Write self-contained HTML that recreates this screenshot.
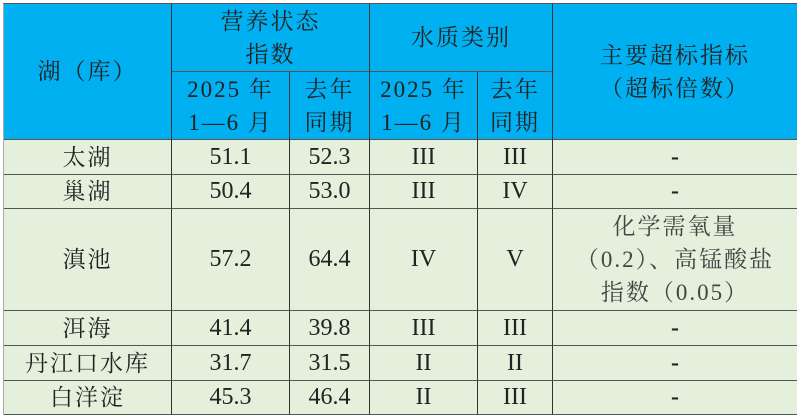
<!DOCTYPE html>
<html><head><meta charset="utf-8"><style>
body{margin:0;width:800px;height:418px;background:#fff;position:relative;overflow:hidden;font-family:"Liberation Serif","Noto Serif CJK SC",serif;font-size:23px;color:#222}
.c{position:absolute;display:flex;align-items:center;justify-content:center;text-align:center;line-height:33px;box-sizing:border-box;border-right:1.5px solid #333;border-bottom:1.5px solid #555;letter-spacing:2px}
.h{background:#00b0f0}
.b{background:#e4efdc}
.n{letter-spacing:0;font-size:24px}
</style></head><body>
<div style="position:absolute;left:3px;top:3px;width:794px;height:412px;border-top:1.5px solid #555;border-left:1px solid #aaa;box-sizing:border-box"></div>
<div class="c h" style="left:4px;top:4px;width:168px;height:136px">湖（库）</div>
<div class="c h" style="left:172px;top:4px;width:198px;height:68px">营养状态<br>指数</div>
<div class="c h" style="left:370px;top:4px;width:183px;height:68px">水质类别</div>
<div class="c h" style="left:553px;top:4px;width:244px;height:136px;border-right:none">主要超标指标<br>（超标倍数）</div>
<div class="c h" style="left:172px;top:72px;width:118px;height:68px">2025 年<br>1—6 月</div>
<div class="c h" style="left:290px;top:72px;width:80px;height:68px">去年<br>同期</div>
<div class="c h" style="left:370px;top:72px;width:108px;height:68px">2025 年<br>1—6 月</div>
<div class="c h" style="left:478px;top:72px;width:75px;height:68px">去年<br>同期</div>

<div class="c b" style="left:4px;top:140px;width:168px;height:35px">太湖</div>
<div class="c b n" style="left:172px;top:140px;width:118px;height:35px">51.1</div>
<div class="c b n" style="left:290px;top:140px;width:80px;height:35px">52.3</div>
<div class="c b n" style="left:370px;top:140px;width:108px;height:35px">III</div>
<div class="c b n" style="left:478px;top:140px;width:75px;height:35px">III</div>
<div class="c b n" style="left:553px;top:140px;width:244px;height:35px;border-right:none;font-weight:bold">-</div>

<div class="c b" style="left:4px;top:175px;width:168px;height:34px">巢湖</div>
<div class="c b n" style="left:172px;top:175px;width:118px;height:34px">50.4</div>
<div class="c b n" style="left:290px;top:175px;width:80px;height:34px">53.0</div>
<div class="c b n" style="left:370px;top:175px;width:108px;height:34px">III</div>
<div class="c b n" style="left:478px;top:175px;width:75px;height:34px">IV</div>
<div class="c b n" style="left:553px;top:175px;width:244px;height:34px;border-right:none;font-weight:bold">-</div>

<div class="c b" style="left:4px;top:209px;width:168px;height:102px">滇池</div>
<div class="c b n" style="left:172px;top:209px;width:118px;height:102px">57.2</div>
<div class="c b n" style="left:290px;top:209px;width:80px;height:102px">64.4</div>
<div class="c b n" style="left:370px;top:209px;width:108px;height:102px">IV</div>
<div class="c b n" style="left:478px;top:209px;width:75px;height:102px">V</div>
<div class="c b" style="left:553px;top:209px;width:244px;height:102px;border-right:none;color:#444">化学需氧量<br>（0.2）、高锰酸盐<br>指数（0.05）</div>

<div class="c b" style="left:4px;top:311px;width:168px;height:35px">洱海</div>
<div class="c b n" style="left:172px;top:311px;width:118px;height:35px">41.4</div>
<div class="c b n" style="left:290px;top:311px;width:80px;height:35px">39.8</div>
<div class="c b n" style="left:370px;top:311px;width:108px;height:35px">III</div>
<div class="c b n" style="left:478px;top:311px;width:75px;height:35px">III</div>
<div class="c b n" style="left:553px;top:311px;width:244px;height:35px;border-right:none;font-weight:bold">-</div>

<div class="c b" style="left:4px;top:346px;width:168px;height:35px">丹江口水库</div>
<div class="c b n" style="left:172px;top:346px;width:118px;height:35px">31.7</div>
<div class="c b n" style="left:290px;top:346px;width:80px;height:35px">31.5</div>
<div class="c b n" style="left:370px;top:346px;width:108px;height:35px">II</div>
<div class="c b n" style="left:478px;top:346px;width:75px;height:35px">II</div>
<div class="c b n" style="left:553px;top:346px;width:244px;height:35px;border-right:none;font-weight:bold">-</div>

<div class="c b" style="left:4px;top:381px;width:168px;height:34px">白洋淀</div>
<div class="c b n" style="left:172px;top:381px;width:118px;height:34px">45.3</div>
<div class="c b n" style="left:290px;top:381px;width:80px;height:34px">46.4</div>
<div class="c b n" style="left:370px;top:381px;width:108px;height:34px">II</div>
<div class="c b n" style="left:478px;top:381px;width:75px;height:34px">III</div>
<div class="c b n" style="left:553px;top:381px;width:244px;height:34px;border-right:none;font-weight:bold">-</div>
</body></html>
